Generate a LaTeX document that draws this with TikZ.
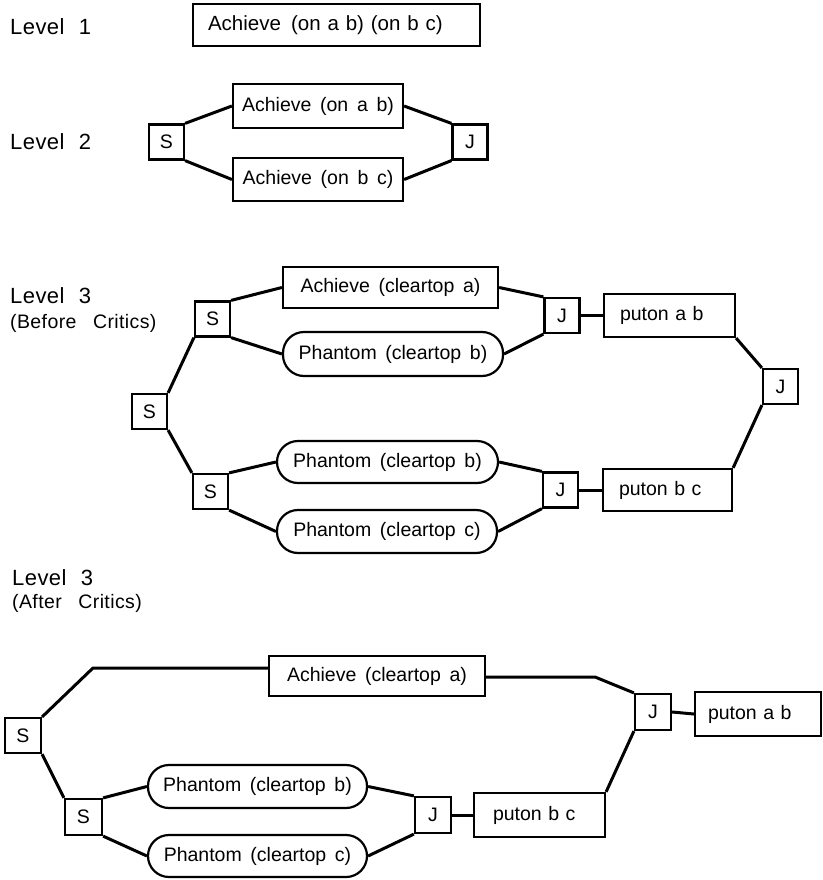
\documentclass[tikz,border=0pt]{standalone}
\usepackage{fontspec}
\setmainfont{Liberation Sans}[WordSpace=1.6]
\newfontfamily\tagfont{Liberation Sans}[LetterSpace=2]
\begin{document}
\begin{tikzpicture}[x=1pt,y=-1pt,
  box/.style={draw, line width=2.2pt, inner sep=0pt, font=\fontsize{19.5}{22}\selectfont},
  sq/.style={box, minimum width=35pt, minimum height=35pt},
  pill/.style={box, rounded corners=21pt, minimum height=43pt},
  leftbox/.style={box, align=left},
  tag/.style={anchor=west, inner sep=0pt, font=\tagfont\fontsize{22}{24}\selectfont},
  subtag/.style={anchor=west, inner sep=0pt, font=\tagfont\fontsize{19.5}{21}\selectfont},
  conn/.style={line width=3pt, line join=round}]
\useasboundingbox (0,0) rectangle (822,880);

% ---------- Level 1 ----------
\node[tag] (lv1) at (10,27) {Level\hspace{0.65em}1};
\node[leftbox, minimum height=42pt, inner xsep=15pt, text width=257pt,
      font=\fontsize{20.5}{23}\selectfont] (top) at (336.5,25) {Achieve\enspace (on a b) (on b c)};

% ---------- Level 2 ----------
\node[tag] (lv2) at (10,142) {Level\hspace{0.65em}2};
\node[sq] (s2) at (166.5,142) {S};
\node[box, minimum width=170pt, minimum height=44pt] (a2u) at (318,106) {Achieve (on a b)};
\node[box, minimum width=170pt, minimum height=43pt] (a2l) at (318,179.5) {Achieve (on b c)};
\node[sq] (j2) at (470,142) {J};
\draw[conn] (s2.north east) -- (a2u.west);
\draw[conn] (s2.south east) -- (a2l.west);
\draw[conn] (a2u.east) -- (j2.north west);
\draw[conn] (a2l.east) -- (j2.south west);

% ---------- Level 3, before critics ----------
\node[tag] (lv3b) at (10,296) {Level\hspace{0.65em}3};
\node[subtag] (bc) at (10,323) {(Before\hspace{0.85em}Critics)};
\node[sq] (b0) at (149.5,411.5) {S};
\node[sq] (b1) at (212.5,319) {S};
\node[sq] (b2) at (210.5,491.5) {S};
\node[box, minimum width=215pt, minimum height=41pt] (bach) at (390.5,287.5) {Achieve (cleartop a)};
\node[pill, minimum width=220pt, minimum height=44pt] (bphb) at (393,354) {Phantom (cleartop b)};
\node[pill, minimum width=221pt, minimum height=42pt] (bphb2) at (387.5,462) {Phantom (cleartop b)};
\node[pill, minimum width=220pt, minimum height=43pt] (bphc) at (387,531.5) {Phantom (cleartop c)};
\node[sq] (bj1) at (562,315.5) {J};
\node[sq] (bj2) at (560.5,490) {J};
\node[leftbox, minimum height=43pt, inner xsep=16pt, text width=99pt] (bpab) at (669.5,315.5) {puton a b};
\node[leftbox, minimum height=42pt, inner xsep=16pt, text width=97pt] (bpbc) at (667.5,490) {puton b c};
\node[sq] (bj3) at (780.5,386.5) {J};
\draw[conn] (b0.north east) -- (b1.south west);
\draw[conn] (b0.south east) -- (b2.north west);
\draw[conn] (b1.north east) -- (bach.west);
\draw[conn] (b1.south east) -- (bphb.west);
\draw[conn] (b2.north east) -- (bphb2.west);
\draw[conn] (b2.south east) -- (bphc.west);
\draw[conn] (bach.east) -- (bj1.north west);
\draw[conn] (bphb.east) -- (bj1.south west);
\draw[conn] (bphb2.east) -- (bj2.north west);
\draw[conn] (bphc.east) -- (bj2.south west);
\draw[conn] (bj1.east) -- (bpab.west);
\draw[conn] (bj2.east) -- (bpbc.west);
\draw[conn] (bpab.south east) -- (bj3.north west);
\draw[conn] (bj3.south west) -- (bpbc.north east);

% ---------- Level 3, after critics ----------
\node[tag] (lv3a) at (12,578) {Level\hspace{0.65em}3};
\node[subtag] (ac) at (12,603) {(After\hspace{0.85em}Critics)};
\node[sq, minimum width=36pt] (a0) at (23,735.5) {S};
\node[sq, minimum width=37pt, minimum height=36pt] (a1) at (83.5,817) {S};
\node[box, minimum width=216pt, minimum height=40pt] (aach) at (377,676) {Achieve (cleartop a)};
\node[pill, minimum width=219pt, minimum height=43pt] (aphb) at (257.5,786.5) {Phantom (cleartop b)};
\node[pill, minimum width=219pt, minimum height=42pt] (aphc) at (257.5,856) {Phantom (cleartop c)};
\node[sq, minimum width=36pt, minimum height=36pt] (aj1) at (433,815) {J};
\node[leftbox, minimum height=44pt, inner xsep=19pt, text width=93pt] (apbc) at (539.5,815) {puton b c};
\node[sq, minimum width=36pt, minimum height=36pt] (aj2) at (653,712) {J};
\node[leftbox, minimum height=44pt, inner xsep=13pt, text width=100pt] (apab) at (758,714) {puton a b};
\coordinate (k1) at (93,668);
\coordinate (k2) at (595,677);
\draw[conn] (a0.north east) -- (k1) -- (k1 -| aach.west);
\draw[conn] (aach.east |- k2) -- (k2) -- (aj2.north west);
\draw[conn] (a0.south east) -- (a1.north west);
\draw[conn] (a1.north east) -- (aphb.west);
\draw[conn] (a1.south east) -- (aphc.west);
\draw[conn] (aphb.east) -- (aj1.north west);
\draw[conn] (aphc.east) -- (aj1.south west);
\draw[conn] (aj1.east) -- (apbc.west);
\draw[conn] (apbc.north east) -- (aj2.south west);
\draw[conn] (aj2.east) -- (apab.west);
\end{tikzpicture}
\end{document}
